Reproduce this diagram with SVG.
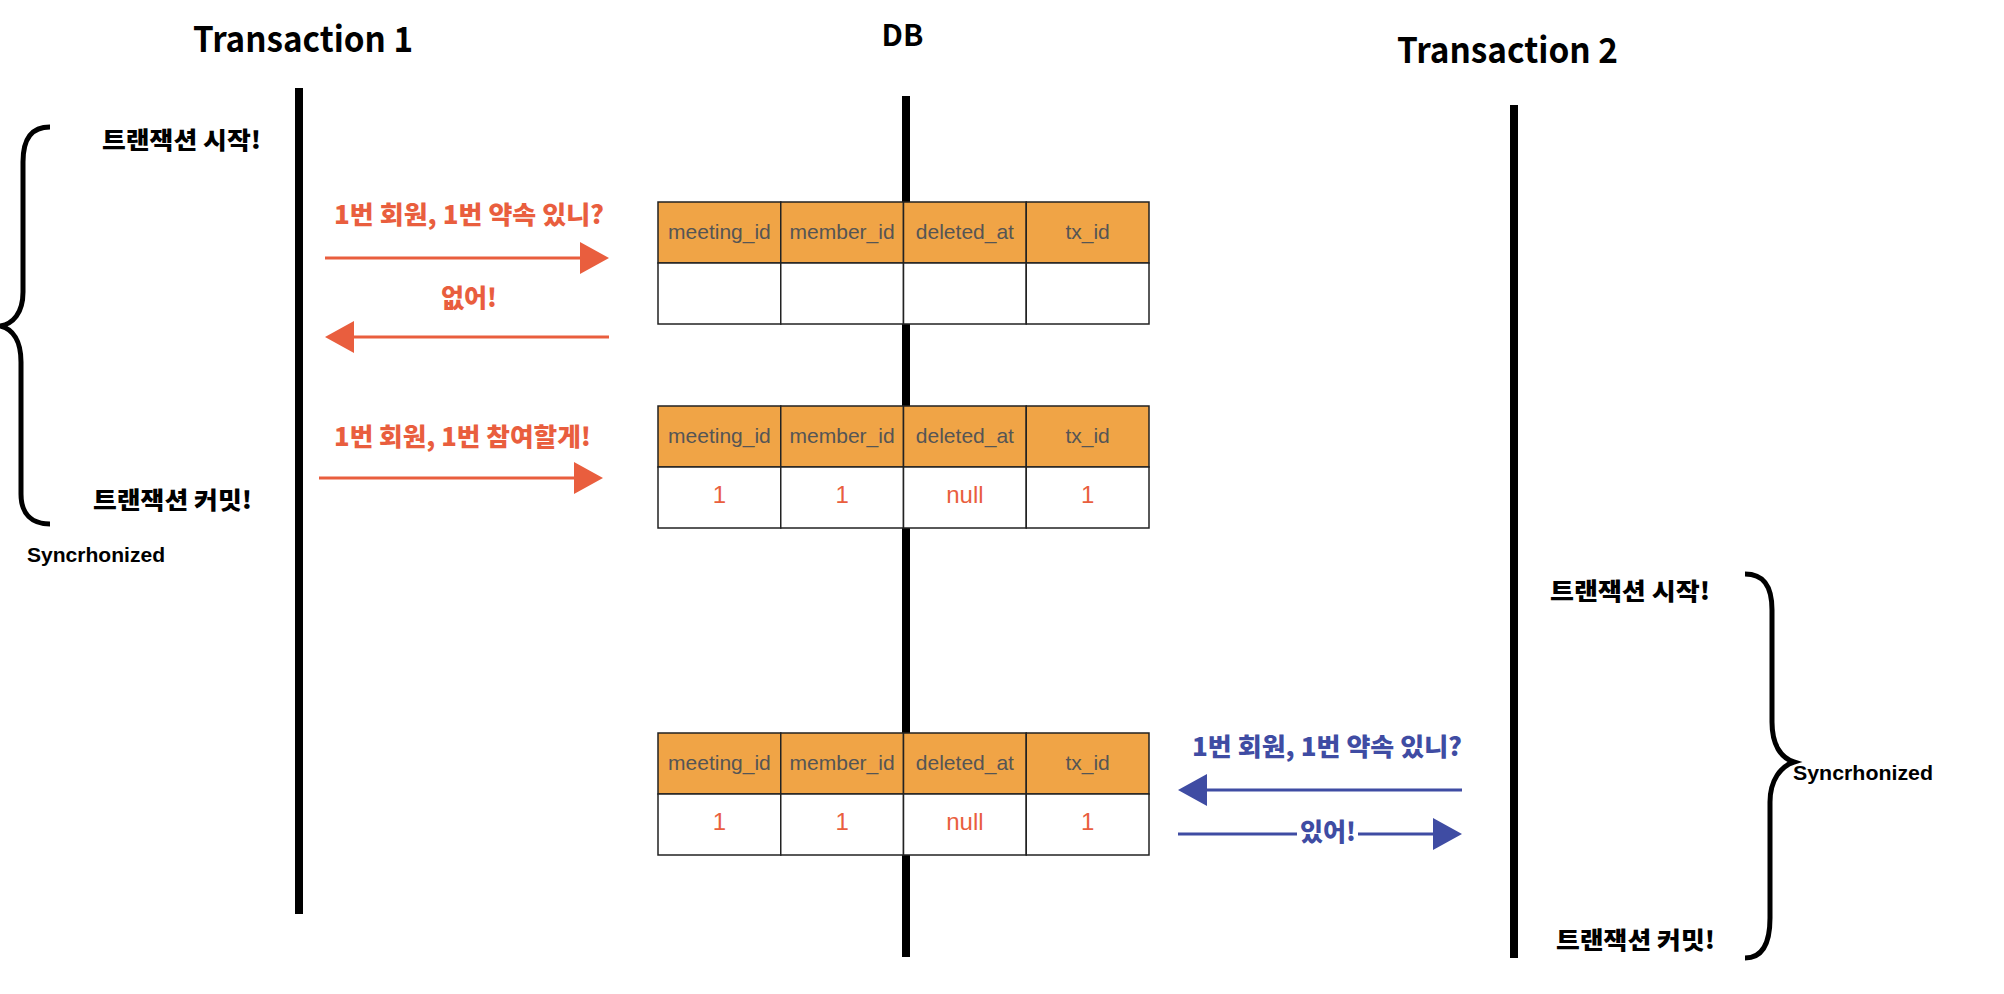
<svg xmlns="http://www.w3.org/2000/svg" width="2004" height="994" viewBox="0 0 2004 994">
<style>
.title{font-family:"Noto Sans CJK KR","Liberation Sans",sans-serif;font-weight:bold;font-size:35px;fill:#000;text-anchor:middle}
.kr{font-family:"Noto Sans CJK KR",sans-serif;font-weight:900;font-size:24px;fill:#000;text-anchor:middle}
.msg{font-family:"Noto Sans CJK KR",sans-serif;font-weight:900;font-size:25px;text-anchor:middle}
.red{fill:#E95E3E}
.blue{fill:#3F4CA3}
.sync{font-family:"Liberation Sans",Arial,sans-serif;font-weight:bold;font-size:20px;fill:#000;text-anchor:middle}
.life{stroke:#000;stroke-width:8;fill:none}
.brace{stroke:#000;stroke-width:5;fill:none;stroke-linecap:butt}
.hdr{fill:#F0A446;stroke:#222;stroke-width:1.5}
.cell{fill:#fff;stroke:#222;stroke-width:1.5}
.htxt{font-family:"Liberation Sans",Arial,sans-serif;font-size:21px;fill:#555;text-anchor:middle}
.dtxt{font-family:"Liberation Sans",Arial,sans-serif;font-size:24px;fill:#E95E3E;text-anchor:middle}
.ar{stroke:#E95E3E;stroke-width:3;fill:none}
.ab{stroke:#3F4CA3;stroke-width:3;fill:none}
</style>
<defs>
<marker id="headR" markerUnits="userSpaceOnUse" markerWidth="29" markerHeight="32" viewBox="0 0 29 32" refX="3" refY="16" orient="auto">
<path d="M0,0 L29,16 L0,32 z" fill="#E95E3E"/>
</marker>
<marker id="headB" markerUnits="userSpaceOnUse" markerWidth="29" markerHeight="32" viewBox="0 0 29 32" refX="3" refY="16" orient="auto">
<path d="M0,0 L29,16 L0,32 z" fill="#3F4CA3"/>
</marker>
<g id="tbl-head">
<rect class="hdr" x="0" y="0" width="122.75" height="61"/>
<rect class="hdr" x="122.75" y="0" width="122.75" height="61"/>
<rect class="hdr" x="245.5" y="0" width="122.75" height="61"/>
<rect class="hdr" x="368.25" y="0" width="122.75" height="61"/>
<rect class="cell" x="0" y="61" width="122.75" height="61"/>
<rect class="cell" x="122.75" y="61" width="122.75" height="61"/>
<rect class="cell" x="245.5" y="61" width="122.75" height="61"/>
<rect class="cell" x="368.25" y="61" width="122.75" height="61"/>
<text class="htxt" x="61.4" y="37">meeting_id</text>
<text class="htxt" x="184.1" y="37">member_id</text>
<text class="htxt" x="306.9" y="37">deleted_at</text>
<text class="htxt" x="429.6" y="37">tx_id</text>
</g>
</defs>
<rect width="2004" height="994" fill="#fff"/>

<g id="title-t1"><text class="title" x="303" y="52" textLength="220" lengthAdjust="spacingAndGlyphs">Transaction 1</text></g>
<g id="title-db"><text class="title" x="902.5" y="46" style="font-size:30px">DB</text></g>
<g id="title-t2"><text class="title" x="1507.5" y="63" textLength="221" lengthAdjust="spacingAndGlyphs">Transaction 2</text></g>

<g id="lifeline-t1"><line class="life" x1="299" y1="88" x2="299" y2="914"/></g>
<g id="lifeline-db"><line class="life" x1="906" y1="96" x2="906" y2="957"/></g>
<g id="lifeline-t2"><line class="life" x1="1514" y1="105" x2="1514" y2="958"/></g>

<g id="table-1">
<use href="#tbl-head" x="658" y="202"/>
</g>
<g id="table-2">
<use href="#tbl-head" x="658" y="406"/>
<text class="dtxt" x="719.4" y="503">1</text>
<text class="dtxt" x="842.1" y="503">1</text>
<text class="dtxt" x="964.9" y="503">null</text>
<text class="dtxt" x="1087.6" y="503">1</text>
</g>
<g id="table-3">
<use href="#tbl-head" x="658" y="733"/>
<text class="dtxt" x="719.4" y="830">1</text>
<text class="dtxt" x="842.1" y="830">1</text>
<text class="dtxt" x="964.9" y="830">null</text>
<text class="dtxt" x="1087.6" y="830">1</text>
</g>

<g id="sync-t1">
<path class="brace" d="M50,127 C32,127 23,138 23,162 L23,292 C23,313 13,324 0,326 C13,329 21,341 21,362 L21,494 C21,514 32,524 50,524"/>
<text class="kr" x="181.5" y="149" textLength="159" lengthAdjust="spacingAndGlyphs">트랜잭션 시작!</text>
<text class="kr" x="172.5" y="509" textLength="159" lengthAdjust="spacingAndGlyphs">트랜잭션 커밋!</text>
<text class="sync" x="96" y="562" textLength="138" lengthAdjust="spacingAndGlyphs">Syncrhonized</text>
</g>

<g id="sync-t2">
<path class="brace" d="M1745,574 C1763,574 1772,585 1772,610 L1772,722 C1772,745 1781,758 1794,762 C1781,766 1770,780 1770,802 L1770,918 C1770,944 1762,958 1745,958"/>
<text class="kr" x="1630" y="600" textLength="160" lengthAdjust="spacingAndGlyphs">트랜잭션 시작!</text>
<text class="kr" x="1635.5" y="949" textLength="159" lengthAdjust="spacingAndGlyphs">트랜잭션 커밋!</text>
<text class="sync" x="1863" y="780" textLength="140" lengthAdjust="spacingAndGlyphs">Syncrhonized</text>
</g>

<g id="connectors">
<line class="ar" x1="325" y1="258" x2="583" y2="258" marker-end="url(#headR)"/>
<line class="ar" x1="609" y1="337" x2="351" y2="337" marker-end="url(#headR)"/>
<line class="ar" x1="319" y1="478" x2="577" y2="478" marker-end="url(#headR)"/>
<line class="ab" x1="1462" y1="790" x2="1204" y2="790" marker-end="url(#headB)"/>
<line class="ab" x1="1178" y1="834" x2="1436" y2="834" marker-end="url(#headB)"/>
<text class="msg red" x="469" y="224" textLength="270" lengthAdjust="spacingAndGlyphs">1번 회원, 1번 약속 있니?</text>
<text class="msg red" x="469" y="307">없어!</text>
<text class="msg red" x="462.5" y="446" textLength="257" lengthAdjust="spacingAndGlyphs">1번 회원, 1번 참여할게!</text>
<text class="msg blue" x="1327" y="756" textLength="270" lengthAdjust="spacingAndGlyphs">1번 회원, 1번 약속 있니?</text>
<rect x="1297" y="824" width="61" height="20" fill="#fff"/>
<text class="msg blue" x="1328" y="841">있어!</text>
</g>
</svg>
